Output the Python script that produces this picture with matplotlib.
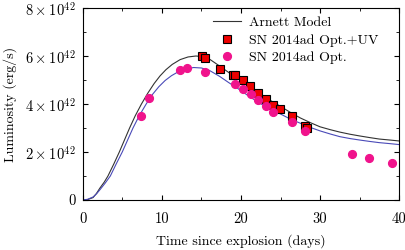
import numpy as np
import matplotlib
matplotlib.use("Agg")
import matplotlib.pyplot as plt
from matplotlib.ticker import MultipleLocator

plt.rcParams['font.family'] = 'serif'
plt.rcParams['font.serif'] = ['cmr10', 'DejaVu Serif']
plt.rcParams['mathtext.fontset'] = 'cm'
plt.rcParams['axes.unicode_minus'] = False

SCALE = 1e42

# Arnett model (black)
arnett_t = [0, 0.6, 1.27, 1.7, 2.15, 2.7, 3.16, 3.9, 4.6, 5.25, 5.9, 6.6, 7.4, 8.2, 9.0, 9.75,
            10.5, 11.3, 12.3, 13.3, 14.3, 15.2, 16.1, 17.3, 18.5, 19.9, 21.1, 22.4, 23.6,
            24.9, 26.2, 27.5, 28.8, 30, 31.3, 32.5, 33.8, 35, 36.3, 37.5, 38.8, 40]
arnett_L = [0, 0.02, 0.1, 0.27, 0.5, 0.75, 1.0, 1.5, 2.0, 2.5, 3.0, 3.5, 4.0, 4.45, 4.85, 5.17,
            5.43, 5.65, 5.85, 5.96, 6.0, 5.97, 5.85, 5.58, 5.3, 5.0, 4.72, 4.44, 4.17,
            3.92, 3.66, 3.42, 3.22, 3.05, 2.93, 2.83, 2.74, 2.67, 2.6, 2.54, 2.5, 2.46]

# second model curve (blue) for the optical-only data
opt_model_t = [0, 0.6, 1.3, 1.75, 2.2, 2.8, 3.46, 4.2, 4.97, 5.65, 6.33, 7.1, 8.0, 8.8, 9.6,
               10.4, 11.2, 12.1, 13.0, 14.0, 15.0, 16.0, 17.3, 18.5, 19.9, 21.1, 22.4,
               23.6, 24.9, 26.2, 27.5, 28.8, 30, 31.3, 32.5, 33.8, 35, 36.3, 37.5, 38.8, 40]
opt_model_L = [0, 0.03, 0.13, 0.27, 0.45, 0.7, 1.0, 1.5, 2.0, 2.5, 3.0, 3.5, 4.0, 4.4, 4.72,
               4.98, 5.18, 5.35, 5.46, 5.52, 5.5, 5.4, 5.15, 4.88, 4.58, 4.3, 4.03,
               3.8, 3.6, 3.38, 3.2, 3.02, 2.88, 2.75, 2.64, 2.56, 2.5, 2.44, 2.39, 2.35, 2.31]

# SN 2014ad Opt.+UV
uv_t = [15.1, 15.4, 17.4, 19.0, 19.3, 20.3, 21.2, 22.2, 23.2, 24.1, 24.9, 26.4, 28.1, 28.3]
uv_L = [6.01, 5.92, 5.47, 5.22, 5.21, 5.0, 4.75, 4.47, 4.21, 3.96, 3.78, 3.49, 3.07, 2.99]

# SN 2014ad Opt.
opt_t = [7.4, 8.4, 12.3, 13.2, 15.4, 19.3, 20.3, 21.3, 22.2, 23.2, 24.1, 26.4, 28.1,
         34.1, 36.2, 39.1]
opt_L = [3.51, 4.26, 5.40, 5.5, 5.35, 4.82, 4.62, 4.40, 4.15, 3.93, 3.68, 3.24, 2.87,
         1.90, 1.76, 1.54]

ytick_vals = [0, 2, 4, 6, 8]
ytick_labels = ['0', r'$2\times10^{42}$', r'$4\times10^{42}$', r'$6\times10^{42}$', r'$8\times10^{42}$']

fig = plt.figure(figsize=(4.06, 2.5), dpi=100)
ax = fig.add_axes([0.2044, 0.2, 0.7784, 0.768])

ax.plot(arnett_t, np.array(arnett_L) * SCALE, color='#333333', lw=0.8, label='Arnett Model', zorder=2)
ax.plot(opt_model_t, np.array(opt_model_L) * SCALE, color='#4a4ab8', lw=0.8, zorder=2)
ax.plot(uv_t, np.array(uv_L) * SCALE, ls='none', marker='s', ms=6, mfc='#ee0000', mec='black',
        mew=0.8, label='SN 2014ad Opt.+UV', zorder=3)
ax.plot(opt_t, np.array(opt_L) * SCALE, ls='none', marker='o', ms=5.6, mfc='#f0138c', mec='#f0138c',
        label='SN 2014ad Opt.', zorder=4)

ax.set_xlim(0, 40)
ax.set_ylim(0, 8 * SCALE)
ax.xaxis.set_major_locator(MultipleLocator(10))
ax.xaxis.set_minor_locator(MultipleLocator(5))
ax.set_yticks([v * SCALE for v in ytick_vals])
ax.set_yticklabels(ytick_labels)
ax.yaxis.set_minor_locator(MultipleLocator(1 * SCALE))
ax.tick_params(which='both', direction='in', top=True, right=True, labelsize=10.5, pad=9)
ax.tick_params(which='major', length=3.5)
ax.tick_params(which='minor', length=2.5)
ax.tick_params(axis='y', pad=5)

ax.set_xlabel('Time since explosion (days)', fontsize=10, labelpad=6)
ax.set_ylabel('Luminosity (erg/s)', fontsize=10, labelpad=6)

ax.legend(loc='upper right', frameon=False, fontsize=10, handlelength=2.0,
          handletextpad=0.6, labelspacing=0.35, borderaxespad=0.2, bbox_to_anchor=(0.962, 1.0))

fig.savefig('out.png', dpi=100)
